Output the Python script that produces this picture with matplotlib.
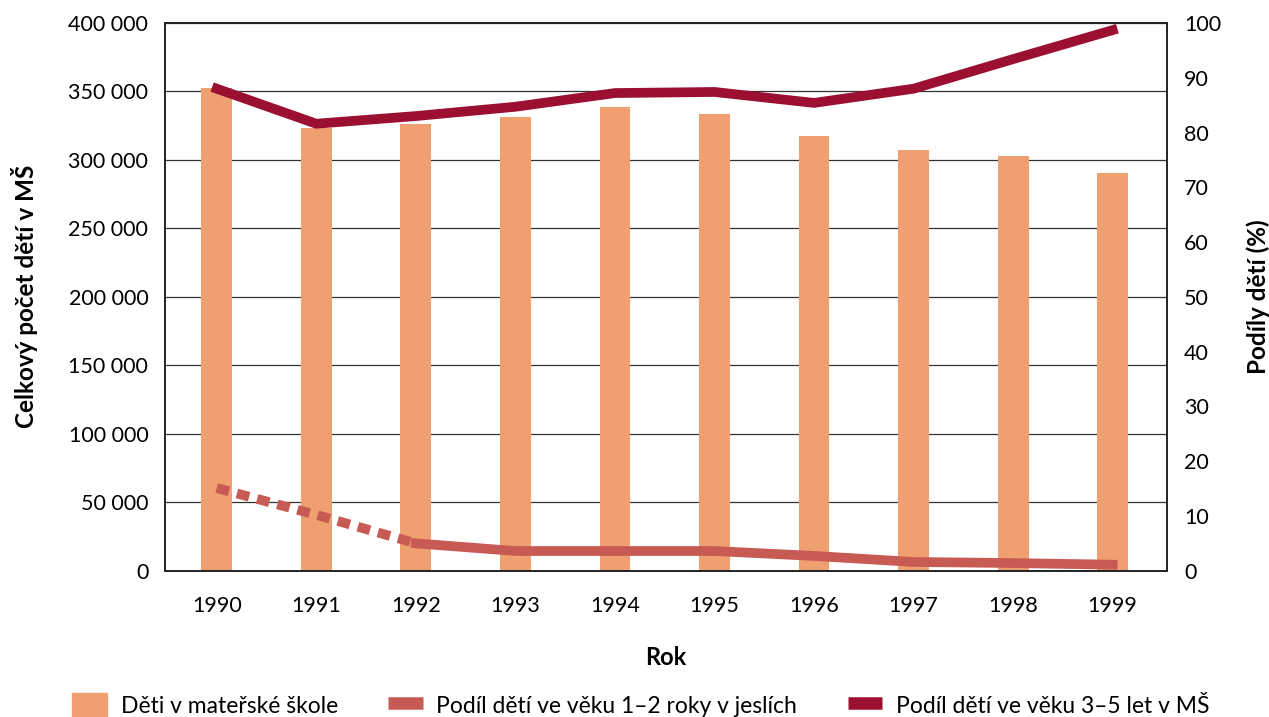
import matplotlib.pyplot as plt
import matplotlib.ticker as mtick
from matplotlib.patches import Patch
from matplotlib.lines import Line2D
import numpy as np

plt.rcParams['font.family'] = ['Lato', 'DejaVu Sans']

years = ['1990', '1991', '1992', '1993', '1994', '1995', '1996', '1997', '1998', '1999']
deti_ms = [352500, 323500, 326300, 331400, 338700, 333500, 317500, 307300, 302800, 290500]
jesle = [15.1, 10.2, 5.0, 3.6, 3.6, 3.6, 2.7, 1.6, 1.4, 1.1]
ms_3_5 = [88.0, 81.6, 83.0, 84.7, 87.2, 87.4, 85.4, 88.0, 93.4, 98.7]

bar_color = '#F0A070'
jesle_color = '#C85A54'
ms_color = '#9B1030'

x = np.arange(len(years))

fig, ax = plt.subplots(figsize=(12.69, 7.17), dpi=100)
fig.subplots_adjust(left=0.13, right=0.92, top=0.968, bottom=0.204)

ax.bar(x, deti_ms, width=0.31, color=bar_color, zorder=2)
ax.set_ylim(0, 400000)
ax.set_xlim(-0.52, len(years) - 0.45)
ax.yaxis.set_major_locator(mtick.MultipleLocator(50000))
ax.yaxis.set_major_formatter(mtick.FuncFormatter(lambda v, p: f'{int(v):,}'.replace(',', ' ')))
ax.grid(axis='y', color='#333333', linewidth=0.9, zorder=1)
ax.set_xticks(x)
ax.set_xticklabels(years)
ax.tick_params(axis='x', length=0, labelsize=15.5, pad=18)
ax.tick_params(axis='y', length=0, labelsize=15.5, pad=12)
ax.set_xlabel('Rok', fontsize=17, fontweight='bold', labelpad=22)
ax.set_ylabel('Celkový počet dětí v MŠ', fontsize=17.5, fontweight='bold', labelpad=22)

ax2 = ax.twinx()
ax2.set_ylim(0, 100)
ax2.yaxis.set_major_locator(mtick.MultipleLocator(10))
ax2.tick_params(length=0, labelsize=15.5, pad=12)
ax2.set_ylabel('Podíly dětí (%)', fontsize=17.5, fontweight='bold', labelpad=18)

ax2.plot(x[:3], jesle[:3], color=jesle_color, linewidth=7, linestyle=(0, (1.3, 0.85)),
         dash_capstyle='butt', zorder=3)
ax2.plot(x[2:], jesle[2:], color=jesle_color, linewidth=7, solid_joinstyle='round', zorder=3)
ax2.plot(x, ms_3_5, color=ms_color, linewidth=7, solid_joinstyle='miter', zorder=3)

for a in (ax, ax2):
    for s in a.spines.values():
        s.set_color('#222222')
        s.set_linewidth(1.2)

handles = [Patch(color=bar_color, label='Děti v mateřské škole'),
           Line2D([], [], color=jesle_color, linewidth=9, solid_capstyle='butt',
                  label='Podíl dětí ve věku 1–2 roky v jeslích'),
           Line2D([], [], color=ms_color, linewidth=9, solid_capstyle='butt',
                  label='Podíl dětí ve věku 3–5 let v MŠ')]
fig.legend(handles=handles, loc='lower center', ncol=3, frameon=False, fontsize=16.5,
           bbox_to_anchor=(0.505, -0.03), handlelength=1.5, handleheight=1.3,
           columnspacing=2.2, handletextpad=0.6)

fig.savefig('out.png', dpi=100)
